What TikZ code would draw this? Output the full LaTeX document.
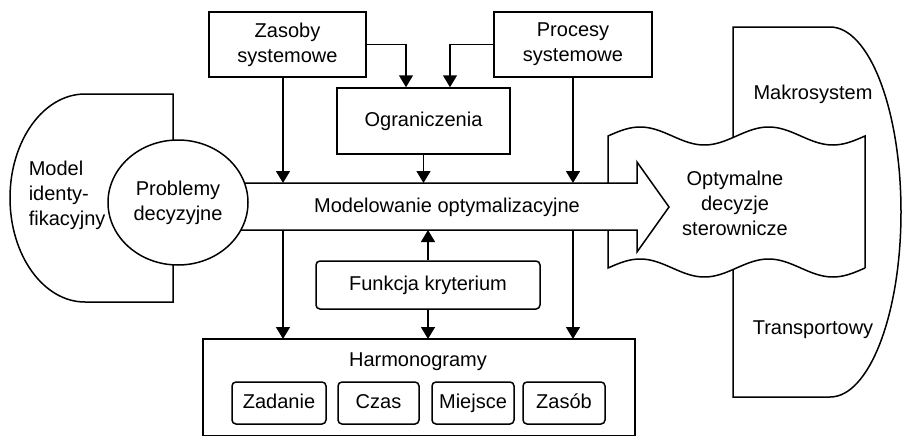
\documentclass[tikz,border=0pt]{standalone}
\usepackage{fontspec}
\setmainfont{Liberation Sans}
\usetikzlibrary{arrows.meta,shapes.geometric}
\begin{document}
\begin{tikzpicture}[x=1pt,y=-1pt,line width=1.5pt,
  every node/.style={font=\fontsize{20}{25}\selectfont,align=center,inner sep=0pt},
  box/.style={draw,fill=white},
  rbox/.style={draw,fill=white,rounded corners=4pt},
  sbox/.style={rbox,text height=14.5pt,text depth=4.5pt,minimum height=42pt},
  arr/.style={-{Triangle[width=14pt,length=12pt]}}]
\useasboundingbox (0,0) rectangle (903,437);
% right shape (Makrosystem / Transportowy)
\draw (733,140) -- (733,27) -- (830,27) arc[start angle=90,end angle=-90,x radius=71pt,y radius=185pt] -- (733,397) -- (733,265);
% wavy document shape
\filldraw[fill=white] (608,137) -- plot[domain=608:865,samples=90] (\x,{136-9*sin(2.8016*(\x-608))}) -- (865,268)
  -- plot[domain=865:608,samples=90] (\x,{268-9*sin(2.8016*(\x-608))}) -- cycle;
% big arrow
\filldraw[fill=white] (200,183) -- (637,183) -- (637,162) -- (669,207) -- (637,252) -- (637,230) -- (200,230) -- cycle;
\coordinate (atop) at (400,183);
\coordinate (abot) at (400,230);
% left D shape
\draw (173,94) -- (85,94) arc[start angle=90,end angle=270,x radius=75pt,y radius=104pt] -- (173,302) -- cycle;
\node[draw,fill=white,ellipse,minimum width=140pt,minimum height=125pt] (prob) at (178,202.5) {};
\node (probt) at (178,203) {Problemy\\decyzyjne};
\node[anchor=west,align=left] (model) at (28,195) {Model\\identy-\\fikacyjny};
\node (modt) at (447,207) {Modelowanie optymalizacyjne};
\node (optt) at (735,203) {Optymalne\\decyzje\\sterownicze};
\node (makro) at (813,94) {Makrosystem};
\node (trans) at (813,330) {Transportowy};
% top boxes
\node[box,minimum width=157pt,minimum height=65pt] (zas) at (287.5,44.5) {Zasoby\\systemowe};
\node[box,minimum width=158pt,minimum height=65pt] (proc) at (573,44.5) {Procesy\\systemowe};
\node[box,minimum width=173pt,minimum height=66pt] (ogr) at (423.5,121) {Ograniczenia};
\node[rbox,minimum width=224pt,minimum height=48pt] (fk) at (428,285) {Funkcja kryterium};
% Harmonogramy
\draw (203,339) rectangle (635,435.5);
\coordinate (harm) at (419,339);
\node (harmt) at (418,362) {Harmonogramy};
\node[sbox,minimum width=94pt] (zad) at (279,403) {Zadanie};
\node[sbox,minimum width=81pt] (czas) at (378.5,403) {Czas};
\node[sbox,minimum width=82pt] (miej) at (473,403) {Miejsce};
\node[sbox,minimum width=82pt] (zasob) at (564,403) {Zasób};
% connectors
\draw[arr] (zas.east) -| ([xshift=-17.5pt]ogr.north);
\draw[arr] (proc.west) -| ([xshift=26.5pt]ogr.north);
\draw[arr] ([xshift=-4.5pt]zas.south) -- ([xshift=-4.5pt]zas.south |- atop);
\draw[arr] (ogr.south) -- (ogr.south |- atop);
\draw[arr] (proc.south) -- (proc.south |- atop);
\draw[arr] ([xshift=-4.5pt]zas.south |- abot) -- ([xshift=-4.5pt]zas.south |- harm);
\draw[arr] (proc.south |- abot) -- (proc.south |- harm);
\draw[arr] (fk.north) -- (fk.north |- abot);
\draw[arr] (fk.south) -- (fk.south |- harm);
\end{tikzpicture}
\end{document}
